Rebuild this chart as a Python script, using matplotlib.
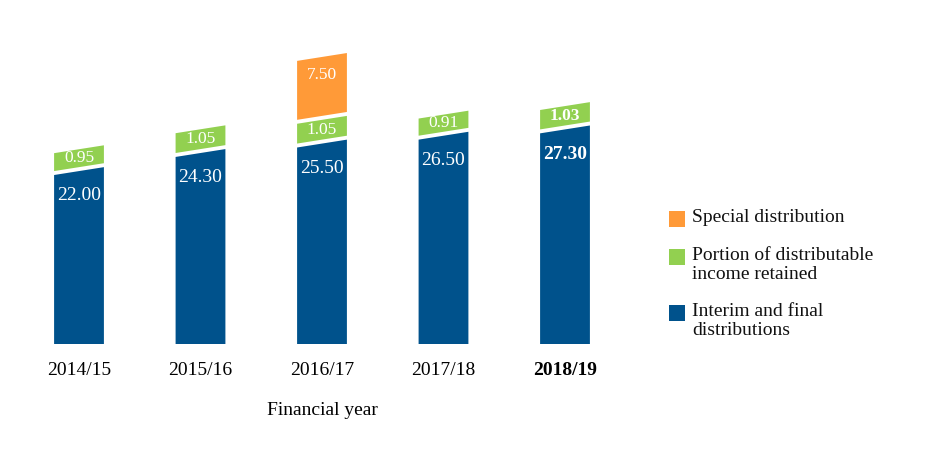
import numpy as np
import matplotlib
matplotlib.use("Agg")
import matplotlib.pyplot as plt
from matplotlib.patches import Polygon, Rectangle

# values
years = ['2014/15', '2015/16', '2016/17', '2017/18', '2018/19']
interim_final = [22.00, 24.30, 25.50, 26.50, 27.30]
retained = [0.95, 1.05, 1.05, 0.91, 1.03]
special = [0, 0, 7.50, 0, 0]

legend_labels = ['Special distribution',
                 'Portion of distributable\nincome retained',
                 'Interim and final\ndistributions']

blue = '#00528C'
green = '#92D050'
orange = '#FF9A38'

plt.rcParams['font.family'] = ['Liberation Serif', 'DejaVu Serif']

fig = plt.figure(figsize=(9.39, 4.60), dpi=100)
W, H = 939, 460
px_per_unit = 7.86
ax_left, ax_right = 18.25, 625.75
ax_bottom = 345
ymax = 40
ax = fig.add_axes([ax_left / W, (H - ax_bottom) / H,
                   (ax_right - ax_left) / W, ymax * px_per_unit / H])
ax.set_xlim(-0.5, 4.5)
ax.set_ylim(0, ymax)

hw = 0.205           # half bar width (category units)
slant = 1.0          # rise of the top edge across a bar (value units)
gap = 0.5            # white gap between segments
green_scale = 2.4    # retained portion is drawn exaggerated in the original


def seg(x, bottom, top, flat_bottom=False):
    bl = bottom if flat_bottom else bottom - slant / 2
    br = bottom if flat_bottom else bottom + slant / 2
    return Polygon([(x - hw, bl), (x + hw, br),
                    (x + hw, top + slant / 2), (x - hw, top - slant / 2)],
                   closed=True, facecolor=None, edgecolor='none')


for i, yr in enumerate(years):
    bold = 'bold' if i == len(years) - 1 else 'normal'
    v = interim_final[i]
    p = seg(i, 0, v, flat_bottom=True)
    p.set_facecolor(blue)
    ax.add_patch(p)
    ax.annotate(f'{v:.2f}', (i, v), xytext=(0, -17), textcoords='offset points',
                ha='center', va='center', color='white', fontsize=14,
                fontweight=bold)

    gb = v + gap
    gt = gb + retained[i] * green_scale
    p = seg(i, gb, gt)
    p.set_facecolor(green)
    ax.add_patch(p)
    ax.text(i, (gb + gt) / 2 + 0.1, f'{retained[i]:.2f}', ha='center', va='center',
            color='white', fontsize=12.5, fontweight=bold)

    if special[i] > 0:
        ob = gt + gap
        ot = ob + special[i]
        p = seg(i, ob, ot)
        p.set_facecolor(orange)
        ax.add_patch(p)
        ax.annotate(f'{special[i]:.2f}', (i, ot), xytext=(0, -12),
                    textcoords='offset points', ha='center', va='center',
                    color='white', fontsize=12.5)

ax.set_xticks(range(len(years)))
ax.set_xticklabels(years, fontsize=14)
ax.get_xticklabels()[-1].set_fontweight('bold')
ax.tick_params(axis='x', length=0, pad=12)
ax.set_yticks([])
for s in ax.spines.values():
    s.set_visible(False)
ax.set_xlabel('Financial year', fontsize=14, labelpad=17)

# legend drawn by hand: square aligned with first text line
leg_colors = [orange, green, blue]
sq_tops = [212, 250, 306]
for c, t, lab in zip(leg_colors, sq_tops, legend_labels):
    fig.patches.append(Rectangle((669 / W, (H - t - 16) / H), 16 / W, 16 / H,
                                 transform=fig.transFigure, facecolor=c,
                                 edgecolor='none'))
    fig.text(692 / W, (H - t + 3) / H, lab, ha='left', va='top', fontsize=14,
             linespacing=1.12, color='#111111')

fig.savefig('out.png', dpi=100)
